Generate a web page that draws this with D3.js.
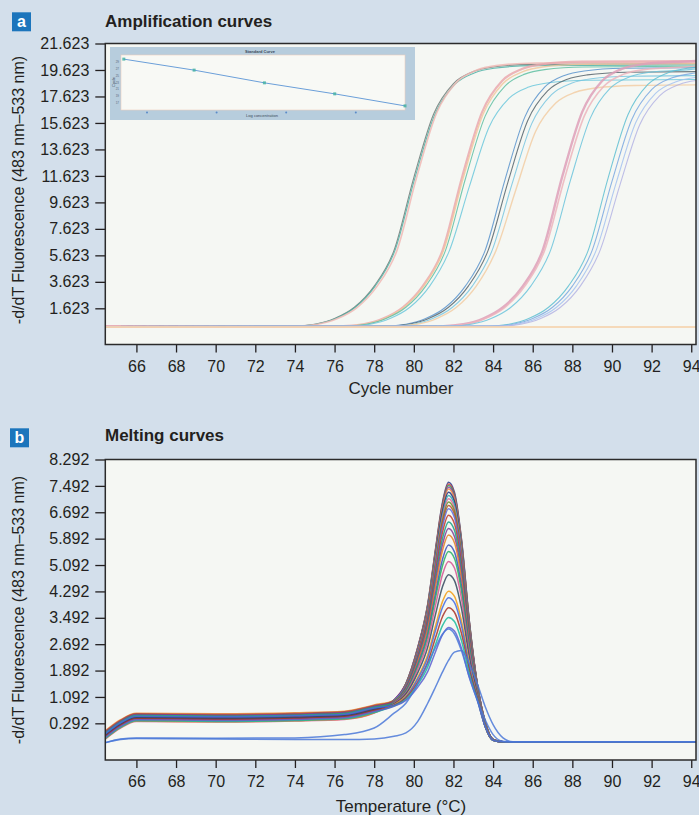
<!DOCTYPE html>
<html><head><meta charset="utf-8">
<script src="https://cdn.jsdelivr.net/npm/d3@7"></script>
<style>
html,body{margin:0;padding:0;background:#d3dfeb;}
svg{display:block;font-family:"Liberation Sans",Arial,Helvetica,sans-serif;}
</style>
</head><body>
<svg id="chart" width="699" height="815"></svg>
<script>
// ---------------- DATA ----------------
const xTicks = [66, 68, 70, 72, 74, 76, 78, 80, 82, 84, 86, 88, 90, 92, 94];
const ampYTicks = [21.623, 19.623, 17.623, 15.623, 13.623, 11.623, 9.623, 7.623, 5.623, 3.623, 1.623];
const meltYTicks = [8.292, 7.492, 6.692, 5.892, 5.092, 4.292, 3.492, 2.692, 1.892, 1.092, 0.292];

// Amplification curves: [cycle, fluorescence]
const ampCurves = [
  [[64.2,0.25],[74,0.28],[75,0.42],[76,0.85],[77,1.7],[78,3.3],[79,6.0],[80,11.5],[81,16.3],[82,18.6],[83,19.5],[84,19.85],[86,20.05],[94.3,20.1]],
  [[64.2,0.25],[74.05,0.28],[75.05,0.42],[76.05,0.85],[77.05,1.7],[78.05,3.3],[79.05,6.0],[80.05,11.44],[81.05,16.22],[82.05,18.51],[83.05,19.4],[84.05,19.75],[86.05,19.95],[94.3,20.0]],
  [[64.2,0.25],[74.15,0.28],[75.15,0.42],[76.15,0.85],[77.15,1.7],[78.15,3.3],[79.15,6.0],[80.15,11.56],[81.15,16.38],[82.15,18.69],[83.15,19.6],[84.15,19.95],[86.15,20.15],[94.3,20.2]],
  [[64.2,0.25],[76.45,0.28],[77.45,0.42],[78.45,0.85],[79.45,1.7],[80.45,3.3],[81.45,6.0],[82.45,11.62],[83.45,16.46],[84.45,18.79],[85.45,19.7],[86.45,20.05],[88.45,20.25],[94.3,20.3]],
  [[64.2,0.25],[76.5,0.28],[77.5,0.42],[78.5,0.85],[79.5,1.7],[80.5,3.3],[81.5,6.0],[82.5,11.5],[83.5,16.3],[84.5,18.6],[85.5,19.5],[86.5,19.85],[88.5,20.05],[94.3,20.1]],
  [[64.2,0.25],[76.6,0.28],[77.6,0.42],[78.6,0.85],[79.6,1.7],[80.6,3.3],[81.6,6.0],[82.6,11.39],[83.6,16.14],[84.6,18.41],[85.6,19.31],[86.6,19.65],[88.6,19.85],[94.3,19.9]],
  [[64.2,0.25],[76.8,0.28],[77.8,0.42],[78.8,0.85],[79.8,1.7],[80.8,3.3],[81.8,6.0],[82.8,10.81],[83.8,15.32],[84.8,17.48],[85.8,18.33],[86.8,18.66],[88.8,18.85],[94.3,18.9]],
  [[64.2,0.25],[78.6,0.28],[79.6,0.42],[80.6,0.85],[81.6,1.7],[82.6,3.3],[83.6,6.0],[84.6,11.33],[85.6,16.06],[86.6,18.32],[87.6,19.21],[88.6,19.55],[90.6,19.75],[94.3,19.8]],
  [[64.2,0.25],[78.75,0.28],[79.75,0.42],[80.75,0.85],[81.75,1.7],[82.75,3.3],[83.75,6.0],[84.75,11.16],[85.75,15.81],[86.75,18.04],[87.75,18.92],[88.75,19.25],[90.75,19.45],[94.3,19.5]],
  [[64.2,0.25],[78.95,0.28],[79.95,0.42],[80.95,0.85],[81.95,1.7],[82.95,3.3],[83.95,6.0],[84.95,10.98],[85.95,15.57],[86.95,17.76],[87.95,18.62],[88.95,18.96],[90.95,19.15],[94.3,19.2]],
  [[64.2,0.25],[79.15,0.28],[80.15,0.42],[81.15,0.85],[82.15,1.7],[83.15,3.3],[84.15,6.0],[85.15,10.58],[86.15,15.0],[87.15,17.11],[88.15,17.94],[89.15,18.26],[91.15,18.45],[94.3,18.5]],
  [[64.2,0.25],[81.5,0.28],[82.5,0.42],[83.5,0.85],[84.5,1.7],[85.5,3.3],[86.5,6.0],[87.5,11.62],[88.5,16.46],[89.5,18.79],[90.5,19.7],[91.5,20.05],[93.5,20.25],[94.3,20.3]],
  [[64.2,0.25],[81.6,0.28],[82.6,0.42],[83.6,0.85],[84.6,1.7],[85.6,3.3],[86.6,6.0],[87.6,11.39],[88.6,16.14],[89.6,18.41],[90.6,19.31],[91.6,19.65],[93.6,19.85],[94.3,19.9]],
  [[64.2,0.25],[81.9,0.28],[82.9,0.42],[83.9,0.85],[84.9,1.7],[85.9,3.3],[86.9,6.0],[87.9,11.27],[88.9,15.97],[89.9,18.23],[90.9,19.11],[91.9,19.45],[93.9,19.65],[94.3,19.7]],
  [[64.2,0.25],[83.8,0.28],[84.8,0.42],[85.8,0.85],[86.8,1.7],[87.8,3.3],[88.8,6.0],[89.8,11.44],[90.8,16.22],[91.8,18.51],[92.8,19.4],[93.8,19.75],[94.3,19.85]],
  [[64.2,0.25],[84,0.28],[85,0.42],[86,0.85],[87,1.7],[88,3.3],[89,6.0],[90,11.21],[91,15.89],[92,18.14],[93,19.01],[94,19.35],[94.3,19.4]],
  [[64.2,0.25],[84.2,0.28],[85.2,0.42],[86.2,0.85],[87.2,1.7],[88.2,3.3],[89.2,6.0],[90.2,11.04],[91.2,15.65],[92.2,17.86],[93.2,18.72],[94.2,19.06],[94.3,19.08]],
  [[64.2,0.25],[84.4,0.28],[85.4,0.42],[86.4,0.85],[87.4,1.7],[88.4,3.3],[89.4,6.0],[90.4,10.93],[91.4,15.49],[92.4,17.67],[93.4,18.53],[94.4,18.86]],
  [[64.2,0.22],[94.3,0.22]]
];
const ampColors = ["#6e7b78","#4fb2a6","#f0b9b4","#eaa9ae","#f2c89e","#5fbfa2","#6cc8dc",
  "#5a94cc","#56646c","#78c6e0","#f2cea4","#dea0b8","#ecb4bc","#6cc4dc",
  "#5fc0d2","#7aa8e0","#a4c2f0","#b4b4e4","#f5d4ae"];
const ampWidths = [1.1,1.1,1.6,2.2,1.4,1.1,1.1,1.1,1.1,1.1,1.4,2.4,1.6,1.1,1.1,1.1,1.1,1.1,2];

// Inset standard curve
const insetLogConc = [1, 2, 3, 4, 5];
const insetCt = [29.8, 26.6, 22.9, 19.7, 16.2];
const insetXTicks = [1.33, 2.32, 3.31, 4.3];
const insetYTicks = [17, 19, 21, 23, 25, 27, 29];

// Melting curves: temperatures and -d/dT values
const meltTemps = [64.4,65.2,66.0,70,74,76.5,78.0,79.0,79.6,80.2,80.7,81.1,81.45,81.75,82.05,82.4,82.8,83.2,83.6,84.0,84.5,85.0,94.3];
const meltSeries = [
  [-0.05,0.30,0.50,0.48,0.51,0.56,0.75,1.0,1.5,2.6,3.9,5.6,7.0,7.6,7.3,5.9,3.4,1.5,0.35,-0.2,-0.27,-0.27,-0.27],
  [-0.13,0.22,0.42,0.40,0.43,0.48,0.67,0.99,1.49,2.59,3.88,5.57,6.96,7.55,7.25,5.86,3.38,1.49,0.35,-0.2,-0.27,-0.27,-0.27],
  [0.0,0.35,0.55,0.53,0.56,0.61,0.80,0.99,1.49,2.57,3.86,5.53,6.91,7.5,7.21,5.83,3.36,1.49,0.33,-0.2,-0.27,-0.27,-0.27],
  [-0.17,0.18,0.38,0.36,0.39,0.44,0.63,0.99,1.48,2.56,3.83,5.49,6.86,7.45,7.16,5.79,3.34,1.48,0.33,-0.2,-0.27,-0.27,-0.27],
  [0.05,0.40,0.60,0.58,0.61,0.66,0.85,0.99,1.48,2.54,3.81,5.46,6.82,7.4,7.11,5.75,3.32,1.48,0.33,-0.2,-0.27,-0.27,-0.27],
  [-0.10,0.25,0.45,0.43,0.46,0.51,0.70,0.99,1.47,2.52,3.76,5.39,6.73,7.3,7.02,5.68,3.28,1.47,0.32,-0.2,-0.27,-0.27,-0.27],
  [-0.03,0.32,0.52,0.50,0.53,0.58,0.77,0.98,1.45,2.49,3.71,5.32,6.63,7.2,6.92,5.6,3.24,1.45,0.32,-0.2,-0.27,-0.27,-0.27],
  [-0.20,0.15,0.35,0.33,0.36,0.41,0.60,0.98,1.44,2.46,3.67,5.25,6.54,7.1,6.82,5.53,3.21,1.44,0.31,-0.2,-0.27,-0.27,-0.27],
  [-0.07,0.28,0.48,0.46,0.49,0.54,0.73,0.97,1.43,2.43,3.62,5.17,6.45,7.0,6.73,5.45,3.17,1.43,0.31,-0.2,-0.27,-0.27,-0.27],
  [0.03,0.38,0.58,0.56,0.59,0.64,0.83,0.97,1.42,2.41,3.58,5.1,6.36,6.9,6.63,5.37,3.13,1.42,0.3,-0.2,-0.27,-0.27,-0.27],
  [-0.15,0.20,0.40,0.38,0.41,0.46,0.65,0.97,1.41,2.38,3.53,5.03,6.27,6.8,6.53,5.3,3.09,1.41,0.3,-0.2,-0.27,-0.27,-0.27],
  [-0.05,0.30,0.50,0.48,0.51,0.56,0.75,0.96,1.38,2.32,3.44,4.89,6.09,6.6,6.34,5.15,3.01,1.38,0.29,-0.21,-0.27,-0.27,-0.27],
  [-0.11,0.24,0.44,0.42,0.45,0.50,0.69,0.95,1.36,2.27,3.34,4.75,5.9,6.4,6.15,5.0,2.93,1.36,0.28,-0.21,-0.27,-0.27,-0.27],
  [0.01,0.36,0.56,0.54,0.57,0.62,0.81,0.94,1.34,2.21,3.25,4.61,5.72,6.2,5.96,4.84,2.85,1.34,0.27,-0.21,-0.27,-0.27,-0.27],
  [-0.19,0.16,0.36,0.34,0.37,0.42,0.61,0.93,1.31,2.16,3.16,4.46,5.54,6.0,5.77,4.69,2.77,1.31,0.26,-0.21,-0.27,-0.27,-0.27],
  [-0.08,0.27,0.47,0.45,0.48,0.53,0.72,0.92,1.28,2.08,3.02,4.25,5.27,5.7,5.49,4.47,2.66,1.28,0.22,-0.22,-0.27,-0.27,-0.27],
  [-0.02,0.33,0.53,0.51,0.54,0.59,0.78,0.91,1.26,2.02,2.93,4.11,5.08,5.5,5.29,4.32,2.58,1.26,0.22,-0.22,-0.27,-0.27,-0.27],
  [-0.14,0.21,0.41,0.39,0.42,0.47,0.66,0.9,1.22,1.94,2.79,3.89,4.81,5.2,5.0,4.09,2.46,1.22,0.2,-0.22,-0.27,-0.27,-0.27],
  [-0.09,0.26,0.46,0.44,0.47,0.52,0.71,0.88,1.18,1.83,2.6,3.61,4.44,4.8,4.62,3.79,2.3,1.18,0.2,-0.22,-0.27,-0.27,-0.27],
  [-0.16,0.19,0.39,0.37,0.40,0.45,0.64,0.86,1.12,1.69,2.37,3.26,3.99,4.3,4.14,3.41,2.11,1.12,0.2,-0.22,-0.27,-0.27,-0.27],
  [-0.04,0.31,0.51,0.49,0.52,0.57,0.76,0.85,1.09,1.64,2.28,3.12,3.81,4.1,3.95,3.26,2.03,1.09,0.2,-0.22,-0.27,-0.27,-0.27],
  [-0.12,0.23,0.43,0.41,0.44,0.49,0.68,0.83,1.06,1.55,2.14,2.9,3.53,3.8,3.66,3.03,1.91,1.06,0.2,-0.22,-0.27,-0.27,-0.27],
  [-0.18,0.17,0.37,0.35,0.38,0.43,0.62,0.82,1.02,1.47,2.0,2.69,3.26,3.5,3.38,2.81,1.8,1.02,0.2,-0.22,-0.27,-0.27,-0.27],
  [-0.15,0.20,0.40,0.38,0.41,0.46,0.65,0.81,0.99,1.39,1.86,2.47,2.98,3.2,3.09,2.58,1.68,0.99,0.2,-0.22,-0.27,-0.27,-0.27],
  [-0.30,-0.18,-0.15,-0.16,-0.15,-0.05,0.15,0.6,0.9,1.5,2.1,2.6,3.0,3.15,3.0,2.5,1.7,1.0,0.4,-0.05,-0.25,-0.27,-0.27],
  [-0.30,-0.2,-0.17,-0.18,-0.2,-0.2,-0.18,-0.1,0.0,0.35,0.9,1.4,1.85,2.2,2.45,2.5,2.1,1.5,0.8,0.25,-0.15,-0.27,-0.27]
];
const meltColors = ["#2a3a8c","#d9433f","#2e9b5f","#8e44ad","#f08a3c","#1f2f7a","#2aa8b0","#e0679a",
  "#6b8e23","#b5532a","#5b6fe0","#c0392b","#16a085","#7d3c98","#e67e22","#3a4fb8",
  "#27ae60","#d35490","#34495e","#f39c12","#4169e1","#a93226","#1abc9c","#5b5fd0",
  "#4a78d8","#4a78d8"];

// ---------------- LAYOUT ----------------
const svg = d3.select("#chart");
const INK = "#231f20";
const plotL = 105.3, plotR = 696;
const A = {top: 43.5, bottom: 344.5};
const B = {top: 459.5, bottom: 760};

const xA = d3.scaleLinear().domain([64.43, 94.24]).range([plotL, plotR]);
const yA = d3.scaleLinear().domain([-1.11, 21.623]).range([A.bottom, A.top]);
const xB = d3.scaleLinear().domain([64.43, 94.24]).range([plotL, plotR]);
const yB = d3.scaleLinear().domain([-0.82, 8.292]).range([B.bottom, B.top]);

function panel(top, bottom, letter, letterBox, title, titleY, x, y, yTicks, xTitle, xTitleY, yTitleCy, clipId) {
  // letter box
  svg.append("rect").attr("x", letterBox[0]).attr("y", letterBox[1]).attr("width", 19).attr("height", 19).attr("fill", "#1c75bc");
  svg.append("text").attr("x", letterBox[0] + 9.5).attr("y", letterBox[1] + 15).attr("text-anchor", "middle")
    .attr("font-size", 16).attr("font-weight", 700).attr("fill", "#fff").text(letter);
  svg.append("text").attr("x", 105).attr("y", titleY).attr("font-size", 17).attr("font-weight", 700).attr("fill", INK).text(title);

  // plot background
  svg.append("rect").attr("x", plotL).attr("y", top).attr("width", plotR - plotL).attr("height", bottom - top)
    .attr("fill", "#f5f7f3");
  svg.append("clipPath").attr("id", clipId).append("rect")
    .attr("x", plotL).attr("y", top).attr("width", plotR - plotL).attr("height", bottom - top);

  const gy = svg.append("g").attr("transform", `translate(${plotL},0)`)
    .call(d3.axisLeft(y).tickValues(yTicks).tickFormat(d3.format(".3f")).tickSize(10).tickPadding(6));
  const gx = svg.append("g").attr("transform", `translate(0,${bottom})`)
    .call(d3.axisBottom(x).tickValues(xTicks).tickFormat(d3.format("d")).tickSize(8).tickPadding(8));
  [gy, gx].forEach(g => {
    g.select(".domain").remove();
    g.selectAll("line").attr("stroke", INK).attr("stroke-width", 1.3);
    g.selectAll("text").attr("font-size", 16).attr("fill", INK)
      .attr("font-family", "'Liberation Sans',Arial,sans-serif");
  });

  svg.append("text").attr("x", 401).attr("y", xTitleY).attr("text-anchor", "middle")
    .attr("font-size", 17).attr("fill", INK).text(xTitle);
  svg.append("text").attr("transform", `translate(24,${yTitleCy}) rotate(-90)`).attr("text-anchor", "middle")
    .attr("font-size", 16).attr("fill", INK).text("-d/dT Fluorescence (483 nm\u2013533 nm)");
}

// ---------- Panel a ----------
panel(A.top, A.bottom, "a", [12, 12.3], "Amplification curves", 27, xA, yA, ampYTicks, "Cycle number", 394, 190, "clipA");

const ampLine = d3.line().x(d => xA(d[0])).y(d => yA(d[1])).curve(d3.curveMonotoneX);
const gA = svg.append("g").attr("clip-path", "url(#clipA)");
gA.selectAll("path.amp").data(ampCurves).join("path").attr("class", "amp")
  .attr("d", ampLine).attr("fill", "none")
  .attr("stroke", (d, i) => ampColors[i]).attr("stroke-width", (d, i) => ampWidths[i])
  .attr("stroke-opacity", 0.85);

// inset standard curve
const ix = d3.scaleLinear().domain([0.96, 5.0]).range([121, 405]);
const iy = d3.scaleLinear().domain([15, 31]).range([110, 55]);
svg.append("rect").attr("x", 110).attr("y", 47).attr("width", 305).attr("height", 73).attr("fill", "#b7cddd");
svg.append("rect").attr("x", 121).attr("y", 55).attr("width", 284).attr("height", 55)
  .attr("fill", "#f8f9f5").attr("stroke", "#efcdbd").attr("stroke-width", 0.6);
svg.append("text").attr("x", 260).attr("y", 52.5).attr("text-anchor", "middle").attr("font-size", 4)
  .attr("font-weight", 700).attr("fill", "#3c4a5a").text("Standard Curve");
svg.append("text").attr("x", 262).attr("y", 116.5).attr("text-anchor", "middle").attr("font-size", 4)
  .attr("fill", "#3c4a5a").text("Log concentration");
svg.append("text").attr("transform", "translate(115,82) rotate(-90)").attr("text-anchor", "middle")
  .attr("font-size", 4).attr("fill", "#3c4a5a").text("Cycle");
svg.selectAll("text.iyt").data(insetYTicks).join("text").attr("class", "iyt")
  .attr("x", 119).attr("y", d => iy(d) + 1).attr("text-anchor", "end").attr("font-size", 3)
  .attr("fill", "#5a6a80").text(d => d);
svg.selectAll("circle.ixt").data(insetXTicks).join("circle").attr("class", "ixt")
  .attr("cx", d => ix(d)).attr("cy", 112.5).attr("r", 1).attr("fill", "#5a8ac8");
svg.append("path").datum(insetLogConc.map((c, i) => [c, insetCt[i]]))
  .attr("d", d3.line().x(d => ix(d[0])).y(d => iy(d[1])))
  .attr("fill", "none").attr("stroke", "#6b9fd9").attr("stroke-width", 1);
svg.selectAll("rect.ipt").data(insetLogConc).join("rect").attr("class", "ipt")
  .attr("x", (d) => ix(d) - 1.5).attr("y", (d, i) => iy(insetCt[i]) - 1.5)
  .attr("width", 3).attr("height", 3).attr("fill", "#3fb0a0").attr("opacity", 0.8);

// frame a
svg.append("rect").attr("x", plotL).attr("y", A.top).attr("width", plotR - plotL).attr("height", A.bottom - A.top)
  .attr("fill", "none").attr("stroke", "#2b2b2b").attr("stroke-width", 1.5);

// ---------- Panel b ----------
panel(B.top, B.bottom, "b", [10, 428.3], "Melting curves", 441, xB, yB, meltYTicks, "Temperature (\u00B0C)", 812, 610, "clipB");

const meltLine = d3.line().x((d, i) => xB(meltTemps[i])).y(d => yB(d)).curve(d3.curveMonotoneX);
const gB = svg.append("g").attr("clip-path", "url(#clipB)");
gB.selectAll("path.melt").data(meltSeries).join("path").attr("class", "melt")
  .attr("d", meltLine).attr("fill", "none")
  .attr("stroke", (d, i) => meltColors[i]).attr("stroke-width", 1.5).attr("stroke-opacity", 0.85);

svg.append("rect").attr("x", plotL).attr("y", B.top).attr("width", plotR - plotL).attr("height", B.bottom - B.top)
  .attr("fill", "none").attr("stroke", "#2b2b2b").attr("stroke-width", 1.5);
</script>
</body></html>
